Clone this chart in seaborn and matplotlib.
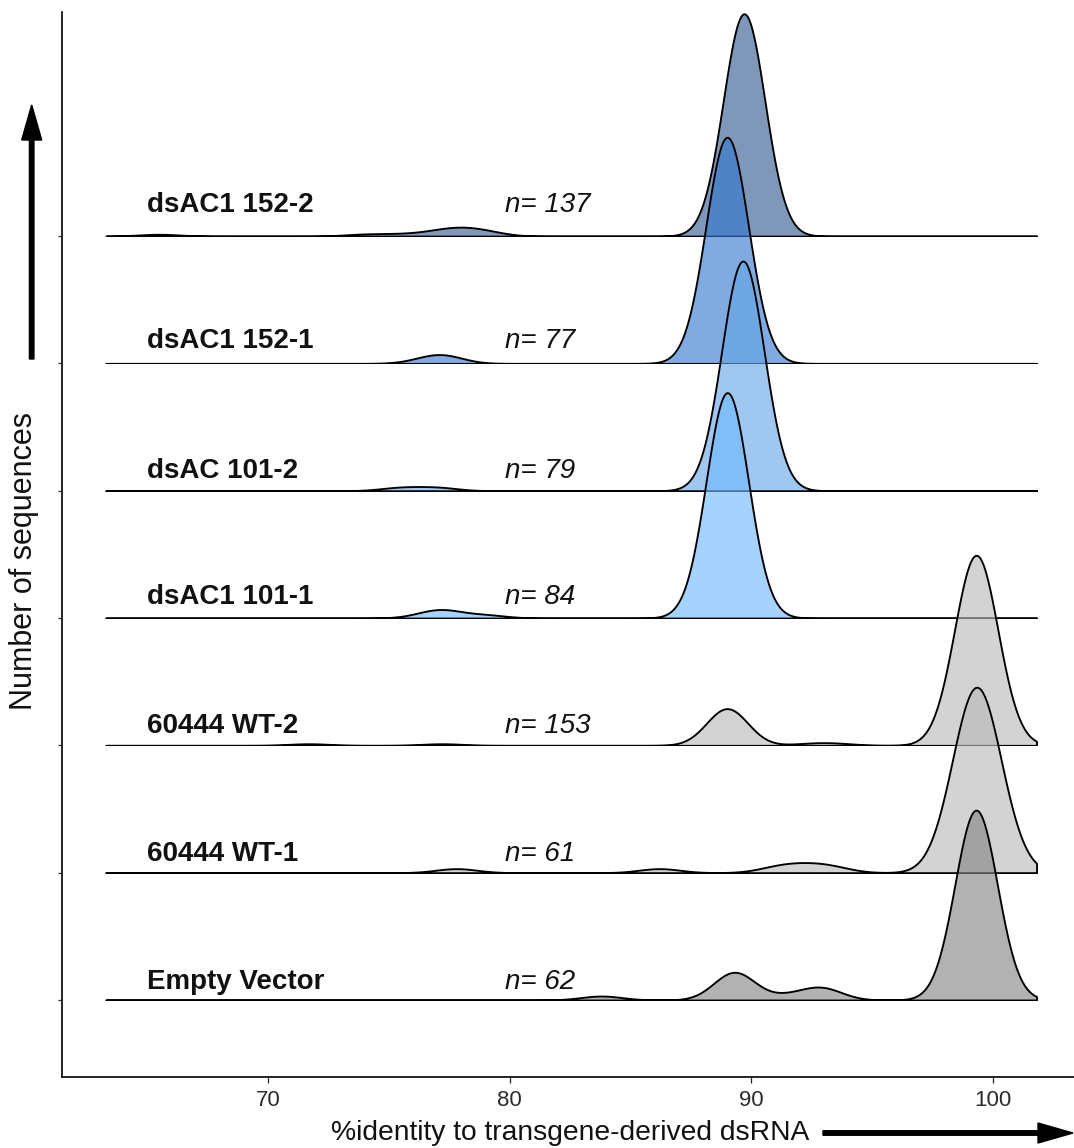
import numpy as np
import pandas as pd
import matplotlib
matplotlib.use("Agg")
import matplotlib.pyplot as plt
from matplotlib.patches import FancyArrow
import seaborn as sns

sns.set_theme(style="ticks")
plt.rcParams['font.family'] = ['Liberation Sans', 'DejaVu Sans']

# samples, bottom ridge first
samples = ["Empty Vector", "60444 WT-1", "60444 WT-2", "dsAC1 101-1",
           "dsAC 101-2", "dsAC1 152-1", "dsAC1 152-2"]
n_seq = [62, 61, 153, 84, 79, 77, 137]
fill_colors = ["#848484", "#B9B9B9", "#B9B9B9", "#6FB9FC",
               "#66A6E7", "#3277CD", "#305990"]

ev_identity = [83.8, 89.3, 91.5, 92.9, 98.7, 99.3, 99.9]
ev_counts = [1, 7, 1, 3, 4, 42, 4]

wt1_identity = [77.8, 86.2, 91.0, 91.8, 92.6, 93.4, 98.1, 98.7, 99.3, 99.9, 100.5]
wt1_counts = [1, 1, 1, 1, 1, 1, 2, 12, 25, 13, 3]

wt2_identity = [71.7, 77.2, 89.0, 92.5, 93.5, 98.7, 99.3, 99.9]
wt2_counts = [1, 1, 23, 1, 1, 15, 95, 16]

ds1011_identity = [76.7, 77.3, 79.0, 88.4, 89.0, 89.6]
ds1011_counts = [1, 2, 1, 5, 69, 6]

ds1012_identity = [75.5, 77.0, 89.05, 89.65, 90.25]
ds1012_counts = [1, 1, 6, 65, 6]

ds1521_identity = [76.6, 77.3, 88.4, 89.0, 89.6]
ds1521_counts = [1, 2, 6, 62, 6]

ds1522_identity = [65.5, 74.0, 75.5, 77.0, 78.0, 79.0, 89.1, 89.7, 90.3]
ds1522_counts = [1, 1, 1, 2, 3, 2, 5, 117, 5]

identity_lists = [ev_identity, wt1_identity, wt2_identity, ds1011_identity,
                  ds1012_identity, ds1521_identity, ds1522_identity]
count_lists = [ev_counts, wt1_counts, wt2_counts, ds1011_counts,
               ds1012_counts, ds1521_counts, ds1522_counts]

# label heights above each ridge baseline (ridge units)
label_offsets = [0.09, 0.095, 0.10, 0.11, 0.10, 0.12, 0.19]

rows = []
for name, vals, cnts in zip(samples, identity_lists, count_lists):
    for v in np.repeat(vals, cnts):
        rows.append({"sample": name, "identity": v})
df = pd.DataFrame(rows)

bw = 0.85            # joint bandwidth (% identity)
data_range = (63.3, 101.8)
xlim = (61.48, 103.35)
dens_per_ridge = 520 / 127.33   # density units -> ridge spacing

fig = plt.figure(figsize=(10.74, 11.48), dpi=100)
ax = fig.add_axes([62 / 1074, 71 / 1148, 1012 / 1074, 1065 / 1148])
ax.set_xlim(*xlim)
ax.set_ylim(-0.605, 7.76)

# top ridge first so lower ridges sit in front
for i in range(len(samples) - 1, -1, -1):
    sub = df[df["sample"] == samples[i]]["identity"].to_numpy()
    rax = ax.inset_axes([xlim[0], i, xlim[1] - xlim[0], 2.0], transform=ax.transData)
    rax.patch.set_visible(False)
    sns.kdeplot(x=sub, ax=rax, fill=True, color=fill_colors[i], alpha=0.62,
                edgecolor="black", linewidth=1.35,
                bw_method=bw / np.std(sub, ddof=1), clip=data_range,
                cut=60, gridsize=1500)
    rax.set_xlim(*xlim)
    rax.set_ylim(0, 2.0 / dens_per_ridge)
    rax.axis("off")

    ax.text(65.0, i + label_offsets[i], samples[i], fontsize=20,
            fontweight="bold", ha="left", va="baseline", color="#111111")
    ax.text(79.8, i + label_offsets[i], f"n= {n_seq[i]}", fontsize=20,
            fontstyle="italic", ha="left", va="baseline", color="#111111")

sns.despine(ax=ax)
for side in ["left", "bottom"]:
    ax.spines[side].set_linewidth(1.2)
    ax.spines[side].set_color("black")
ax.set_xticks([70, 80, 90, 100])
ax.set_xticklabels(["70", "80", "90", "100"])
ax.set_yticks(range(len(samples)))
ax.tick_params(axis="x", length=4.3, width=0.9, labelsize=16,
               labelcolor="#2b2b2b", pad=5)
ax.tick_params(axis="y", length=3, width=0.9, labelleft=False)
ax.set_xlabel("")
ax.set_ylabel("")

fig.text(570 / 1074, 1 - 1133 / 1148, "%identity to transgene-derived dsRNA",
         fontsize=20.3, ha="center", va="center", color="#111111")
fig.text(24 / 1074, 1 - 561 / 1148, "Number of sequences", fontsize=22,
         rotation=90, ha="center", va="center", color="#111111")

# axis arrows
fig.add_artist(FancyArrow(0.317, (1148 - 359) / 100, 0, 2.54, width=0.045,
                          head_width=0.2, head_length=0.35,
                          length_includes_head=True, color="black",
                          transform=fig.dpi_scale_trans))
fig.add_artist(FancyArrow(8.23, (1148 - 1133) / 100, 2.5, 0, width=0.045,
                          head_width=0.2, head_length=0.35,
                          length_includes_head=True, color="black",
                          transform=fig.dpi_scale_trans))

fig.savefig("out.png", dpi=100)
